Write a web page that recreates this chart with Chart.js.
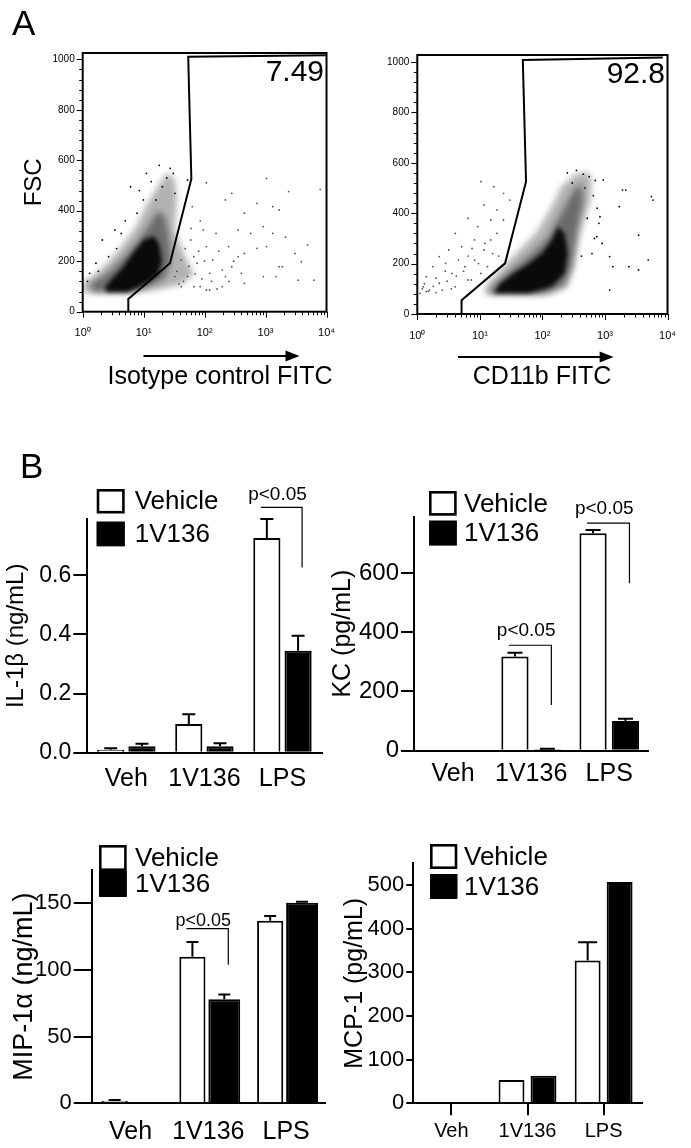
<!DOCTYPE html>
<html>
<head>
<meta charset="utf-8">
<title>CD11b gating and cytokine release</title>
<script src="https://cdn.jsdelivr.net/npm/chart.js@4.4.1/dist/chart.umd.min.js"></script>
<style>
  body { margin: 0; background: #fff; }
  #page { position: relative; width: 691px; height: 1148px; overflow: hidden; background: #fff; }
  #page canvas { position: absolute; }
  .panel { position: absolute; font: 35px 'Liberation Sans', Arial, sans-serif; line-height: 40px; color: #000; }
</style>
</head>
<body>
<div id="page">
  <canvas id="flowIso" width="350" height="395" style="left:0px;top:0px"></canvas>
  <canvas id="flowCd11b" width="351" height="395" style="left:340px;top:0px"></canvas>
  <canvas id="il1b" width="330" height="360" style="left:0px;top:440px"></canvas>
  <canvas id="kc" width="365" height="360" style="left:320px;top:440px"></canvas>
  <canvas id="mip" width="335" height="348" style="left:0px;top:800px"></canvas>
  <canvas id="mcp" width="371" height="348" style="left:320px;top:800px"></canvas>
  <div class="panel" style="left:12px;top:3px">A</div>
  <div class="panel" style="left:20px;top:446px">B</div>
</div>
<script>
// ---------- A: flow plots (x = FITC, log; y = FSC) ----------
const flowXTicks = [1, 10, 100, 1000, 10000];
const flowXLabels = ['10⁰', '10¹', '10²', '10³', '10⁴'];
const flowYTicks = [0, 200, 400, 600, 800, 1000];
const gateValues = ['7.49', '92.8'];

// isotype control
const isoGate = [[5.6, 0], [5.6, 50], [27, 192], [60.6, 526], [53.8, 1010], [9700, 1016]];
const isoHalo = [[1.0, 74], [2.5, 74], [6.5, 74], [15.9, 86], [39, 106], [66.7, 145], [46.7, 225], [32.6, 324],
  [35, 443], [32.6, 522], [24.5, 553], [17.7, 502], [11.1, 423], [7.8, 344], [4.55, 264], [2.66, 197], [1.55, 145], [1.0, 114]];
const isoMid = [[1.5, 76], [6, 76], [12, 100], [22, 130], [28, 200], [26, 300], [22, 380], [17, 400], [12, 340],
  [8, 280], [4.5, 210], [2.5, 150], [1.3, 110]];
const isoCore = [[2.5, 78], [5.5, 78], [8, 95], [12, 118], [17, 145], [20, 200], [18, 265], [15, 300], [10, 285],
  [7, 240], [4.5, 175], [3, 130], [2.3, 95]];
const isoDots = [[2.1, 284], [2.66, 218], [3.38, 324], [4.29, 310], [7.8, 390], [9.9, 443], [13.3, 515], [20.2, 495],
  [27.2, 568], [30.7, 548], [32.6, 469], [1.65, 192], [1.3, 152], [6.1, 495], [11.1, 548], [15.9, 443], [52.5, 522],
  [1.2, 120], [1.8, 160], [3.6, 250], [5, 360], [8.5, 480], [18, 580], [24, 530]];
const isoDotsGated = [[62.8, 416], [107, 511], [220, 443], [279, 469], [449, 390], [724, 429], [1037, 528], [1670, 403],
  [2390, 476], [7870, 485], [4890, 264], [354, 324], [570, 310], [920, 337], [1315, 310], [2120, 295], [449, 231],
  [724, 251], [1037, 258], [1670, 178], [1880, 178], [3850, 198], [6210, 125], [3420, 125], [920, 139], [220, 139],
  [121, 152], [84.6, 99], [195, 99], [279, 178], [136, 205], [107, 258], [66.7, 218], [59.2, 284], [154, 310],
  [248, 258], [354, 218], [95.3, 324], [75.2, 192], [52.5, 139], [41.4, 99], [66.7, 99], [121, 86], [449, 112],
  [1480, 139], [32.6, 139], [41.4, 205], [107, 86], [195, 165], [399, 152], [3030, 231], [1315, 416], [35, 160],
  [45, 120], [55, 180], [70, 150], [90, 130], [80, 240], [60, 330], [100, 200], [130, 120], [170, 240], [48, 250],
  [38, 110], [160, 90], [250, 120], [300, 200], [85, 360]];

// CD11b
const cdGate = [[5.1, 0], [5.1, 55], [25.3, 201], [54.7, 525], [48.6, 1008], [8400, 1018]];
const cdHalo = [[11.7, 82], [16.7, 75], [125, 75], [255, 108], [323, 188], [409, 320], [584, 452], [619, 532],
  [518, 565], [323, 552], [201, 505], [141, 426], [78, 320], [48.6, 267], [30.2, 214], [18.8, 161], [13.2, 122]];
const cdMid = [[13, 80], [100, 78], [220, 110], [300, 190], [350, 320], [450, 450], [420, 520], [300, 480],
  [200, 400], [120, 300], [60, 230], [30, 170], [18, 120]];
const cdCore = [[16.7, 82], [61.5, 82], [141, 108], [226, 161], [255, 241], [226, 320], [179, 347], [141, 294],
  [98.8, 241], [61.5, 201], [34, 161], [21.2, 122]];
const cdDots = [[1906, 492], [5535, 466], [5870, 452], [3445, 313], [1188, 228], [1337, 188], [2415, 188],
  [3445, 175], [4918, 214], [1188, 95], [2148, 492], [832, 386], [740, 307], [937, 532], [1694, 426], [250, 560],
  [350, 570], [450, 555], [560, 545], [700, 530], [300, 520], [480, 500], [650, 470], [750, 420], [800, 360],
  [520, 380], [680, 300], [620, 240], [420, 230], [900, 280]];
const cdDotsOutside = [[10.4, 525], [16.7, 505], [30.2, 452], [23.9, 479], [11.7, 433], [6.49, 380], [9.26, 347],
  [14.9, 373], [4.04, 320], [3.19, 254], [2.24, 228], [1.77, 188], [1.39, 148], [1.24, 108], [1.57, 95], [2.24, 122],
  [3.59, 161], [5.77, 188], [8.22, 214], [11.7, 254], [14.9, 294], [18.8, 320], [5.12, 267], [2.83, 201], [4.04, 108],
  [7.31, 135], [10.4, 161], [1.10, 82], [1.39, 89], [1.99, 142], [18.8, 413], [23.9, 373], [8.22, 294], [4.55, 214],
  [6.49, 135], [13.2, 188], [1.2, 100], [1.5, 90], [1.8, 110], [2.5, 95], [3, 130], [3.5, 100], [4.2, 150], [2.0, 85],
  [1.3, 120], [2.8, 170], [5.5, 170], [6.5, 230], [7.5, 260], [9.5, 200], [12, 280], [16, 240], [20, 230]];

// ---------- B: cytokines ----------
const groups = ['Veh', '1V136', 'LPS'];
const seriesNames = ['Vehicle', '1V136'];

const il1bVehicle = [0.010, 0.097, 0.726];
const il1bVehicleErr = [0.005, 0.033, 0.064];
const il1bDrug = [0.022, 0.022, 0.345];
const il1bDrugErr = [0.008, 0.010, 0.050];
const il1bTicks = [0, 0.2, 0.4, 0.6];
const il1bSig = [{group: 2, text: 'p<0.05', line: 0.829, drop: 0.626, label: 0.872}];

const kcVehicle = [0, 318, 734];
const kcVehicleErr = [0, 13, 11];
const kcDrug = [0, 5, 100];
const kcDrugErr = [0, 2, 8];
const kcTicks = [0, 200, 400, 600];
const kcSig = [{group: 1, text: 'p<0.05', line: 356, drop: 154, label: 406},
               {group: 2, text: 'p<0.05', line: 768, drop: 565, label: 816}];

const mipVehicle = [2, 110, 137];
const mipVehicleErr = [0.5, 11, 3.5];
const mipDrug = [0, 78, 150.5];
const mipDrugErr = [0, 3.7, 0.6];
const mipTicks = [0, 50, 100, 150];
const mipSig = [{group: 1, text: 'p<0.05', line: 131, drop: 104, label: 136.5}];

const mcpVehicle = [0, 53.5, 327];
const mcpVehicleErr = [0, 0, 42];
const mcpDrug = [0, 63, 507];
const mcpDrugErr = [0, 0, 0];
const mcpTicks = [0, 100, 200, 300, 400, 500];

const FAMILY = "'Liberation Sans', Arial, Helvetica, sans-serif";
Chart.defaults.font.family = FAMILY;
Chart.defaults.color = '#000';
Chart.defaults.animation = false;
Chart.defaults.events = [];

// shaded density clouds behind the single events
const density = {
  id: 'density',
  beforeDatasetsDraw(chart, args, opts) {
    const {ctx, chartArea: a, scales: {x, y}} = chart;
    ctx.save();
    ctx.beginPath();
    ctx.rect(a.left, a.top, a.width, a.height);
    ctx.clip();
    opts.layers.forEach(l => {
      ctx.filter = 'blur(' + l.blur + 'px)';
      ctx.beginPath();
      l.pts.forEach((p, i) => {
        const px = x.getPixelForValue(p[0]), py = y.getPixelForValue(p[1]);
        if (i) ctx.lineTo(px, py); else ctx.moveTo(px, py);
      });
      ctx.closePath();
      ctx.fillStyle = l.color;
      ctx.fill();
    });
    ctx.restore();
  }
};

// frame, minor ticks, gate percentage, arrow + axis name
const flowDecor = {
  id: 'flowDecor',
  afterDatasetsDraw(chart, args, o) {
    const {ctx, chartArea: a, scales: {x, y}} = chart;
    ctx.save();
    ctx.strokeStyle = '#000';
    ctx.fillStyle = '#000';
    ctx.lineWidth = 2;
    ctx.strokeRect(a.left, a.top, a.width, a.height);
    ctx.lineWidth = 1;
    ctx.beginPath();
    for (let d = 1; d <= 10000; d *= 10) {
      for (let k = 1; k < 10; k++) {
        if (d === 10000 && k > 1) break;
        const px = Math.round(x.getPixelForValue(k * d)) + 0.5;
        ctx.moveTo(px, a.bottom);
        ctx.lineTo(px, a.bottom + (k === 1 ? 6 : 3.5));
      }
    }
    for (let v = 0; v <= 1000; v += 40) {
      const py = Math.round(y.getPixelForValue(v)) + 0.5;
      ctx.moveTo(a.left, py);
      ctx.lineTo(a.left - (v % 200 === 0 ? 6 : 3.5), py);
    }
    ctx.stroke();

    ctx.font = '30px ' + FAMILY;
    ctx.textAlign = 'right';
    ctx.textBaseline = 'middle';
    ctx.fillText(o.value, a.right - 2.5, a.top + 20);

    const [x1, x2, ay] = o.arrow;
    ctx.lineWidth = 2;
    ctx.beginPath();
    ctx.moveTo(x1, ay);
    ctx.lineTo(x2 - 10, ay);
    ctx.stroke();
    ctx.beginPath();
    ctx.moveTo(x2, ay);
    ctx.lineTo(x2 - 14, ay - 5.5);
    ctx.lineTo(x2 - 14, ay + 5.5);
    ctx.closePath();
    ctx.fill();

    ctx.font = '25px ' + FAMILY;
    ctx.textAlign = 'center';
    ctx.textBaseline = 'alphabetic';
    ctx.fillText(o.axisText, o.textX, o.textY);
    ctx.restore();
  }
};

function flowPlot(id, c) {
  const xy = arr => arr.map(p => ({x: p[0], y: p[1]}));
  return new Chart(document.getElementById(id), {
    type: 'scatter',
    data: {
      datasets: [
        {data: xy(c.gate), showLine: true, borderColor: '#000', borderWidth: 2, pointRadius: 0, tension: 0},
        {data: xy(c.dots), pointRadius: 0.9, pointBorderWidth: 0, backgroundColor: '#000'},
        {data: xy(c.dotsLight), pointRadius: 0.9, pointBorderWidth: 0, backgroundColor: '#555'}
      ]
    },
    options: {
      responsive: false,
      layout: {padding: c.pad},
      plugins: {
        legend: {display: false},
        tooltip: {enabled: false},
        density: {layers: [
          {pts: c.halo, color: 'rgba(0,0,0,0.3)', blur: 3},
          {pts: c.mid, color: 'rgba(0,0,0,0.4)', blur: 3},
          {pts: c.core, color: 'rgba(0,0,0,0.9)', blur: 2}
        ]},
        flowDecor: c.decor
      },
      scales: {
        x: {
          type: 'logarithmic', min: 1, max: 10000,
          afterBuildTicks: s => { s.ticks = flowXTicks.map(v => ({value: v})); },
          afterFit: s => { s.height = 30; },
          ticks: {font: {size: 11}, padding: 15, maxRotation: 0, autoSkip: false, callback: (v, i) => flowXLabels[i]},
          grid: {display: false, drawTicks: false},
          border: {display: false}
        },
        y: {
          min: 0, max: c.yMax,
          afterBuildTicks: s => { s.ticks = flowYTicks.map(v => ({value: v})); },
          afterFit: s => { s.width = c.yWidth; },
          ticks: {font: {size: 10}, padding: 8, callback: v => String(v)},
          grid: {display: false, drawTicks: false},
          border: {display: false},
          title: {display: !!c.yTitle, text: c.yTitle, font: {size: 24}, padding: {top: 19.6, bottom: 0}}
        }
      }
    },
    plugins: [density, flowDecor]
  });
}

flowPlot('flowIso', {
  gate: isoGate, halo: isoHalo, mid: isoMid, core: isoCore, dots: isoDots, dotsLight: isoDotsGated,
  pad: {left: 0, top: 53, right: 10, bottom: 53.3}, yWidth: 82.7, yMax: 1025, yTitle: 'FSC',
  decor: {value: gateValues[0], arrow: [143.5, 299.5, 356], axisText: 'Isotype control FITC', textX: 220, textY: 384}
});
flowPlot('flowCd11b', {
  gate: cdGate, halo: cdHalo, mid: cdMid, core: cdCore, dots: cdDots, dotsLight: cdDotsOutside,
  pad: {left: 0, top: 55, right: 14.3, bottom: 51}, yWidth: 77.3, yMax: 1028, yTitle: '',
  decor: {value: gateValues[1], arrow: [118, 273.6, 357], axisText: 'CD11b FITC', textX: 202, textY: 384}
});

// ---------- bar chart helpers ----------
const errorBars = {
  id: 'errorBars',
  afterDatasetsDraw(chart, args, o) {
    const {ctx, scales: {y}} = chart;
    ctx.save();
    ctx.strokeStyle = '#000';
    ctx.lineWidth = o.width;
    chart.data.datasets.forEach((ds, di) => {
      chart.getDatasetMeta(di).data.forEach((bar, i) => {
        const e = ds.err[i];
        if (!e) return;
        const top = y.getPixelForValue(ds.data[i] + e);
        ctx.beginPath();
        ctx.moveTo(bar.x, bar.y);
        ctx.lineTo(bar.x, top);
        ctx.moveTo(bar.x - o.cap / 2, top);
        ctx.lineTo(bar.x + o.cap / 2, top);
        ctx.stroke();
      });
    });
    ctx.restore();
  }
};

const sigBrackets = {
  id: 'sigBrackets',
  afterDraw(chart, args, o) {
    const {ctx, scales: {y}} = chart;
    ctx.save();
    ctx.strokeStyle = '#000';
    ctx.fillStyle = '#000';
    ctx.lineWidth = 1.2;
    o.items.forEach(s => {
      const b0 = chart.getDatasetMeta(0).data[s.group];
      const b1 = chart.getDatasetMeta(1).data[s.group];
      const x1 = b0.x - 6, x2 = b1.x + 4;
      const yl = y.getPixelForValue(s.line), yd = y.getPixelForValue(s.drop);
      ctx.beginPath();
      ctx.moveTo(x1, yl);
      ctx.lineTo(x2, yl);
      ctx.lineTo(x2, yd);
      ctx.stroke();
      ctx.font = o.size + 'px ' + FAMILY;
      ctx.textAlign = 'center';
      ctx.textBaseline = 'middle';
      ctx.fillText(s.text, (x1 + x2) / 2 - 4, y.getPixelForValue(s.label));
    });
    ctx.restore();
  }
};

const boxLegend = {
  id: 'boxLegend',
  afterDraw(chart, args, o) {
    const {ctx, chartArea: a} = chart;
    ctx.save();
    chart.data.datasets.forEach((ds, i) => {
      const x = a.left + o.dx, y = a.top + o.dy + i * o.step;
      ctx.fillStyle = ds.backgroundColor;
      ctx.fillRect(x, y, o.w, o.h);
      ctx.strokeStyle = '#000';
      ctx.lineWidth = 2.6;
      ctx.strokeRect(x + 1.3, y + 1.3, o.w - 2.6, o.h - 2.6);
      ctx.fillStyle = '#000';
      ctx.font = '26px ' + FAMILY;
      ctx.textAlign = 'left';
      ctx.textBaseline = 'middle';
      ctx.fillText(ds.label, x + o.w + o.gap, y + o.h / 2 + 1);
    });
    ctx.restore();
  }
};

function cytokineChart(id, c) {
  return new Chart(document.getElementById(id), {
    type: 'bar',
    data: {
      labels: groups,
      datasets: [
        {label: seriesNames[0], data: c.vehicle, err: c.vehicleErr, backgroundColor: '#fff', borderColor: '#000',
         borderWidth: 2, barPercentage: c.barPct[0], categoryPercentage: c.catPct},
        {label: seriesNames[1], data: c.drug, err: c.drugErr, backgroundColor: '#000', borderColor: '#000',
         borderWidth: 2, barPercentage: c.barPct[1], categoryPercentage: c.catPct}
      ]
    },
    options: {
      responsive: false,
      layout: {padding: c.pad},
      plugins: {
        legend: {display: false},
        tooltip: {enabled: false},
        errorBars: {cap: c.cap, width: 2},
        sigBrackets: {items: c.sig, size: c.sigSize},
        boxLegend: c.legend
      },
      scales: {
        x: {
          afterFit: s => { s.height = 40; },
          ticks: {font: {size: c.xSize}, padding: c.xPad, maxRotation: 0, autoSkip: false},
          grid: {display: c.xTicks, drawOnChartArea: false, drawTicks: c.xTicks, offset: false,
                 tickLength: 12, color: '#000', lineWidth: 2},
          border: {display: true, color: '#000', width: 2}
        },
        y: {
          min: 0, max: c.max,
          afterBuildTicks: s => { s.ticks = c.ticks.map(v => ({value: v})); },
          afterFit: s => { s.width = c.yWidth; },
          ticks: {font: {size: c.tickSize}, padding: 2, callback: c.fmt},
          grid: {display: true, drawOnChartArea: false, tickLength: c.tickLen, color: '#000', lineWidth: 2},
          border: {display: true, color: '#000', width: 2},
          title: {display: true, text: c.title, font: {size: c.titleSize}, padding: {top: c.titlePad, bottom: 0}}
        }
      }
    },
    plugins: [errorBars, sigBrackets, boxLegend]
  });
}

cytokineChart('il1b', {
  vehicle: il1bVehicle, vehicleErr: il1bVehicleErr, drug: il1bDrug, drugErr: il1bDrugErr,
  ticks: il1bTicks, max: 0.79, fmt: v => v.toFixed(1), sig: il1bSig, sigSize: 19,
  title: 'IL-1β (ng/mL)', titleSize: 24, titlePad: 2.3, tickSize: 23, tickLen: 14,
  pad: {left: 0, top: 79, right: 8.5, bottom: 7.3}, yWidth: 87.3,
  catPct: 0.8, barPct: [0.87, 0.87], cap: 13, xSize: 25, xPad: 11, xTicks: false,
  legend: {dx: 9.4, dy: -30, w: 28, h: 24.5, step: 32.7, gap: 10}
});

cytokineChart('kc', {
  vehicle: kcVehicle, vehicleErr: kcVehicleErr, drug: kcDrug, drugErr: kcDrugErr,
  ticks: kcTicks, max: 790, fmt: v => String(v), sig: kcSig, sigSize: 19,
  title: 'KC (pg/mL)', titleSize: 25, titlePad: 8, tickSize: 24, tickLen: 13,
  pad: {left: 0, top: 76.7, right: 36.7, bottom: 9.3}, yWidth: 94,
  catPct: 0.83, barPct: [0.84, 0.84], cap: 15, xSize: 25, xPad: 8.3, xTicks: false,
  legend: {dx: 15, dy: -25.7, w: 27.7, h: 24.7, step: 29.7, gap: 7.3}
});

cytokineChart('mip', {
  vehicle: mipVehicle, vehicleErr: mipVehicleErr, drug: mipDrug, drugErr: mipDrugErr,
  ticks: mipTicks, max: 175, fmt: v => String(v), sig: mipSig, sigSize: 18,
  title: 'MIP-1α (ng/mL)', titleSize: 27, titlePad: 8.8, tickSize: 22, tickLen: 18,
  pad: {left: 0, top: 70, right: 10, bottom: 4.7}, yWidth: 91.7,
  catPct: 0.82, barPct: [0.82, 1.0], cap: 12, xSize: 25, xPad: 13.4, xTicks: false,
  legend: {dx: 7.3, dy: -25, w: 27.7, h: 26, step: 26, gap: 8.3}
});

cytokineChart('mcp', {
  vehicle: mcpVehicle, vehicleErr: mcpVehicleErr, drug: mcpDrug, drugErr: mcpDrugErr,
  ticks: mcpTicks, max: 550, fmt: v => String(v), sig: [], sigSize: 18,
  title: 'MCP-1 (pg/mL)', titleSize: 25, titlePad: 20, tickSize: 22, tickLen: 7,
  pad: {left: 0, top: 63.3, right: 49.3, bottom: 4.7}, yWidth: 93.3,
  catPct: 0.84, barPct: [0.81, 0.81], cap: 19, xSize: 20, xPad: 4.4, xTicks: true,
  legend: {dx: 16.7, dy: -19.3, w: 27.3, h: 25, step: 30, gap: 6.7}
});
</script>
</body>
</html>
